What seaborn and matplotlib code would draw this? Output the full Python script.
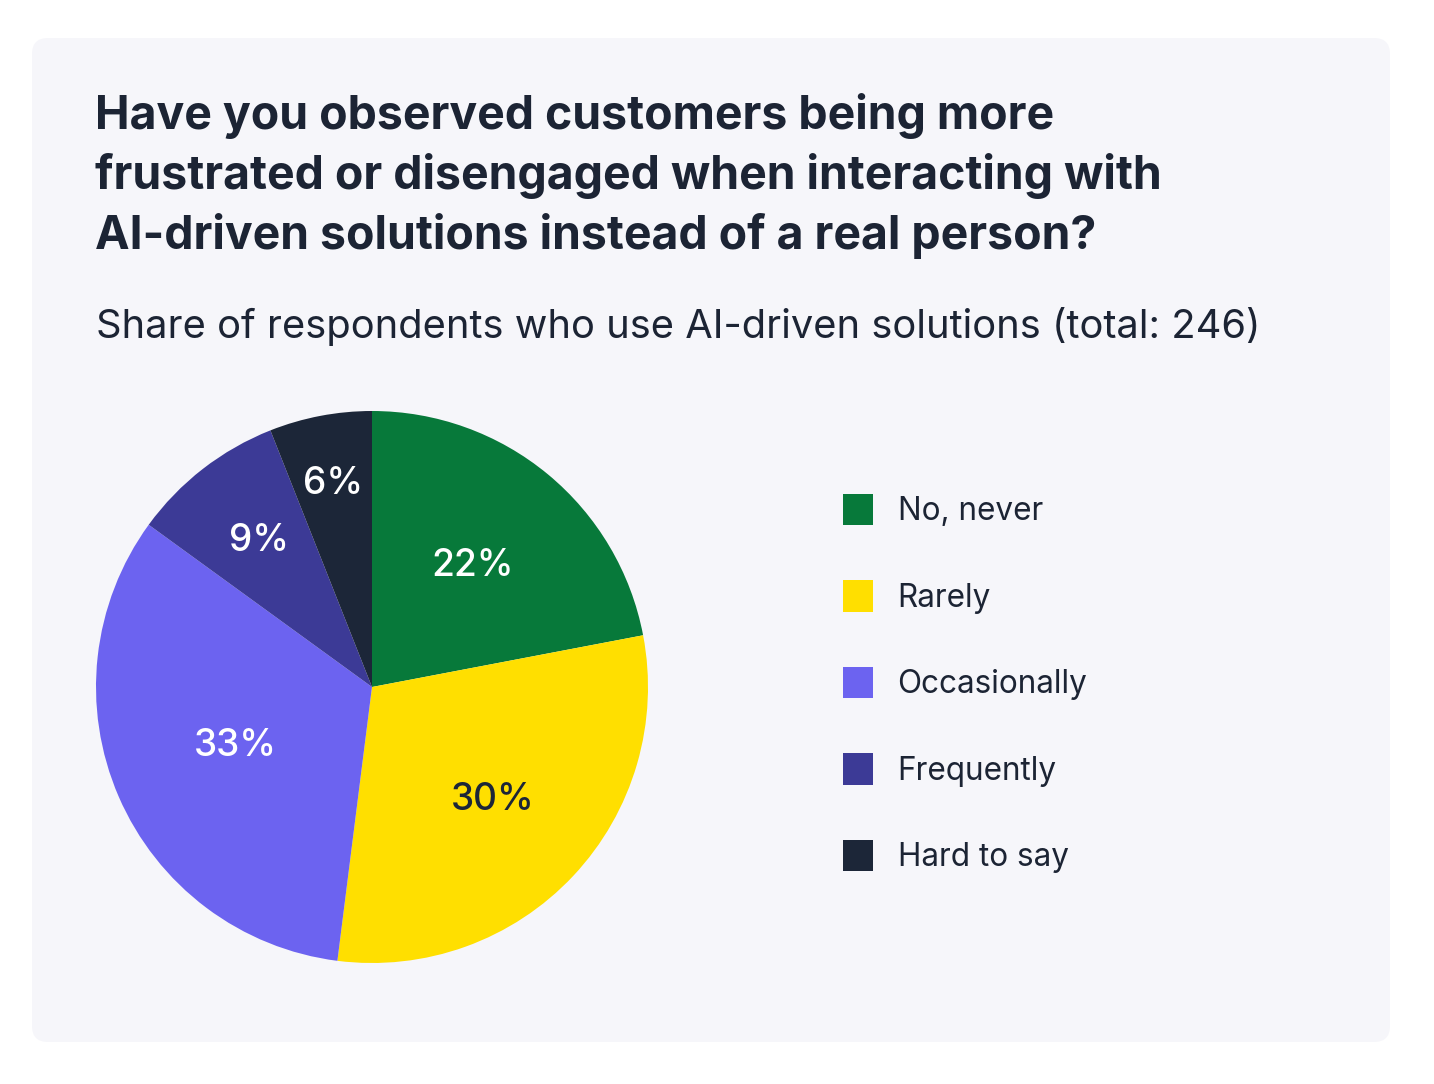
import matplotlib
matplotlib.use("Agg")
import matplotlib.pyplot as plt
import seaborn as sns
import numpy as np
from matplotlib.patches import FancyBboxPatch

# data
categories = ["No, never", "Rarely", "Occasionally", "Frequently", "Hard to say"]
shares = [22, 30, 33, 9, 6]
colors = ["#07793A", "#FFDF00", "#6C63F0", "#3C3A96", "#1C2638"]
label_colors = ["white", "#1C2638", "white", "white", "white"]
label_radius = [0.57, 0.60, 0.54, 0.67, 0.75]

title_lines = [
    "Have you observed customers being more",
    "frustrated or disengaged when interacting with",
    "AI-driven solutions instead of a real person?",
]
subtitle = "Share of respondents who use AI-driven solutions (total: 246)"

sns.set_theme(style="white")
plt.rcParams["font.family"] = ["Inter", "DejaVu Sans"]

W, H = 1434, 1084
fig = plt.figure(figsize=(W / 100, H / 100), dpi=100)
fig.patch.set_facecolor("white")

# background card, in pixel coordinates
bg = fig.add_axes([0, 0, 1, 1])
bg.set_xlim(0, W)
bg.set_ylim(H, 0)
bg.axis("off")
bg.add_patch(FancyBboxPatch((32, 38), 1358, 1004,
                            boxstyle="round,pad=0,rounding_size=16",
                            fc="#F6F6FA", ec="none"))

dark = "#1C2434"
for i, line in enumerate(title_lines):
    bg.text(95, 129 + i * 60, line, fontsize=33.4, fontweight="bold",
            color=dark, va="baseline", ha="left")
bg.text(96, 338, subtitle, fontsize=28.7, color=dark, va="baseline", ha="left")

# pie
cx, cy, r = 372, 687, 276
ax = fig.add_axes([(cx - r) / W, 1 - (cy + r) / H, 2 * r / W, 2 * r / H])
wedges, _ = ax.pie(shares, colors=colors, startangle=90, counterclock=False,
                   radius=1, wedgeprops=dict(linewidth=0))
ax.set_xlim(-1, 1)
ax.set_ylim(-1, 1)
ax.set_aspect("equal")
ax.axis("off")

for w, v, c, rr in zip(wedges, shares, label_colors, label_radius):
    ang = np.deg2rad((w.theta1 + w.theta2) / 2)
    ax.text(rr * np.cos(ang), rr * np.sin(ang), f"{v}%", color=c,
            fontsize=26.7, fontweight="medium", ha="center", va="center")

leg = fig.legend(wedges, categories, loc="upper left",
                 bbox_to_anchor=(843 / W, 1 - 494 / H), frameon=False,
                 fontsize=22.7, handlelength=0.95, handleheight=1.15,
                 handletextpad=0.78, labelspacing=1.685, borderpad=0,
                 borderaxespad=0, labelcolor=dark)

fig.savefig("out.png", dpi=100, facecolor="white")
